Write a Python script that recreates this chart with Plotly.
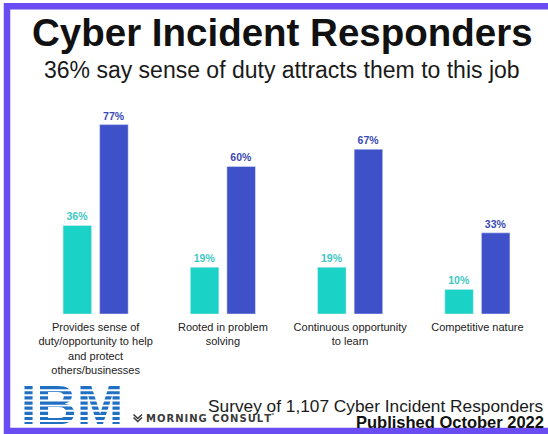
import plotly.graph_objects as go

# ---- data ----
categories = [
    "Provides sense of<br>duty/opportunity to help<br>and protect<br>others/businesses",
    "Rooted in problem<br>solving",
    "Continuous opportunity<br>to learn",
    "Competitive nature",
]
series1_values = [36, 19, 19, 10]   # teal
series2_values = [77, 60, 67, 33]   # blue

TEAL = "#1bd2c6"
BLUE = "#3f51c9"
TEAL_TXT = "#3ec8c2"
BLUE_TXT = "#3a4ab4"
PURPLE = "#6a4cf3"

W, H = 548, 434
# plot area of the bar chart, in pixels
PL, PR, PT, PB = 32, 541, 100, 314

fig = go.Figure()
fig.add_trace(go.Bar(
    x=categories, y=series1_values, marker_color=TEAL,
    texttemplate="%{y}%", textposition="outside",
    textfont=dict(size=10.5, color=TEAL_TXT, family="Liberation Sans", weight="bold"),
    cliponaxis=False, showlegend=False, hoverinfo="skip",
))
fig.add_trace(go.Bar(
    x=categories, y=series2_values, marker_color=BLUE,
    texttemplate="%{y}%", textposition="outside",
    textfont=dict(size=10.5, color=BLUE_TXT, family="Liberation Sans", weight="bold"),
    cliponaxis=False, showlegend=False, hoverinfo="skip",
))

# IBM wordmark as text on a full-figure overlay subplot (pixel coordinates)
fig.add_trace(go.Scatter(
    x=[72], y=[410], mode="text", text=["<b>IBM</b>"],
    textposition="middle center",
    textfont=dict(size=56, color="#1f6fc3", family="Liberation Sans"),
    xaxis="x2", yaxis="y2", cliponaxis=False, showlegend=False, hoverinfo="skip",
))

shapes = []
# white stripes over IBM wordmark
top, bar_h, gap_h = 386.0, 3.2, 1.95
for i in range(7):
    y0 = top + (i + 1) * bar_h + i * gap_h
    shapes.append(dict(type="rect", xref="x2", yref="y2",
                       x0=16, x1=128, y0=y0, y1=y0 + gap_h,
                       fillcolor="white", line=dict(width=0), layer="above"))
# Morning Consult mark
mx0, mx1, my0 = 133.5, 142, 414.5
mxm = (mx0 + mx1) / 2
shapes.append(dict(type="path", xref="x2", yref="y2",
                   path=(f"M {mx0},{my0} L {mxm},{my0+4} L {mx1},{my0} "
                         f"M {mx0},{my0+3} L {mxm},{my0+7} L {mx1},{my0+3}"),
                   line=dict(color="#3a3a3a", width=1.6), layer="above"))
# purple frame (left, top, bottom)
shapes.append(dict(type="rect", xref="x2", yref="y2",
                   x0=7, x1=560, y0=6.3, y1=431,
                   line=dict(color=PURPLE, width=6.5), fillcolor="rgba(0,0,0,0)", layer="above"))

annotations = [
    dict(text="<b>Cyber Incident Responders</b>", x=282, y=32.7,
         font=dict(size=38.5, color="#111111", family="Liberation Sans")),
    dict(text="36% say sense of duty attracts them to this job", x=282, y=70.3,
         font=dict(size=23, color="#1a1a1a", family="Liberation Sans")),
    dict(text="Survey of 1,107 Cyber Incident Responders", x=546, y=405.5, xanchor="right",
         font=dict(size=17.3, color="#1a1a1a", family="Liberation Sans")),
    dict(text="<b>Published October 2022</b>", x=546, y=422, xanchor="right",
         font=dict(size=16.5, color="#111111", family="Liberation Sans")),
    dict(text="<b>M\u200aO\u200aR\u200aN\u200aI\u200aN\u200aG\u2009 C\u200aO\u200aN\u200aS\u200aU\u200aL\u200aT</b><sup>\u00b0</sup>",
         x=144, y=418.3, xanchor="left",
         font=dict(size=10, color="#3a3a3a", family="DejaVu Sans")),
]
for a in annotations:
    a.setdefault("xanchor", "center")
    a.update(xref="x2", yref="y2", yanchor="middle", showarrow=False)

fig.update_layout(
    width=W, height=H,
    margin=dict(l=0, r=0, t=0, b=0, pad=0),
    paper_bgcolor="white", plot_bgcolor="rgba(0,0,0,0)",
    barmode="group", bargap=0.425, bargroupgap=0.22,
    xaxis=dict(type="category", domain=[PL / W, PR / W], anchor="y",
               showgrid=False, zeroline=False, showline=False, ticks="",
               ticklabelstandoff=5, automargin=False,
               tickfont=dict(size=11, color="#222222", family="Liberation Sans")),
    yaxis=dict(range=[0, 87], domain=[(H - PB) / H, (H - PT) / H], anchor="x",
               visible=False, showgrid=False, zeroline=False, fixedrange=True),
    xaxis2=dict(domain=[0, 1], range=[0, W], anchor="y2", visible=False, fixedrange=True),
    yaxis2=dict(domain=[0, 1], range=[H, 0], anchor="x2", visible=False, fixedrange=True),
    shapes=shapes,
    annotations=annotations,
)

fig.write_html("out.html", config={"displayModeBar": False},
               post_script="document.body.style.margin='0';")
